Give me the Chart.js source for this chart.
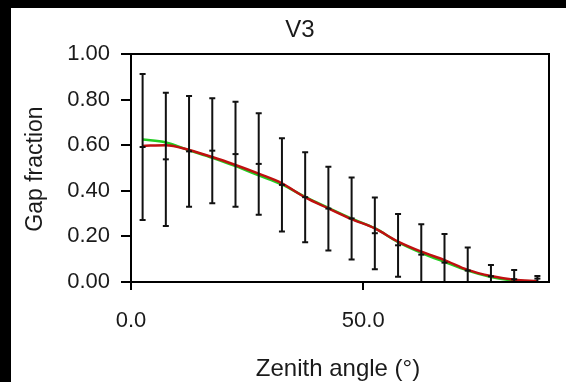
<!DOCTYPE html>
<html><head><meta charset="utf-8">
<script src="https://cdn.jsdelivr.net/npm/chart.js@4/dist/chart.umd.min.js"></script>
<style>
html,body{margin:0;padding:0;background:#000;width:566px;height:382px;overflow:hidden}
#wrap{position:absolute;left:11px;top:8px;width:555px;height:374px;background:#fff}
canvas{display:block}
</style></head><body>
<div id="wrap"><canvas id="c" width="555" height="374"></canvas></div>
<script>
const chartTitle = 'V3';
const xTitle = 'Zenith angle (°)';
const yTitle = 'Gap fraction';
const angles = [2.5, 7.5, 12.5, 17.5, 22.5, 27.5, 32.5, 37.5, 42.5, 47.5, 52.5, 57.5, 62.5, 67.5, 72.5, 77.5, 82.5, 87.5];
const meanGap = [0.592, 0.538, 0.573, 0.576, 0.561, 0.518, 0.426, 0.372, 0.322, 0.279, 0.214, 0.161, 0.120, 0.085, 0.050, 0.025, 0.012, 0.015];
const upperGap = [0.912, 0.830, 0.816, 0.806, 0.791, 0.740, 0.630, 0.569, 0.506, 0.458, 0.371, 0.298, 0.253, 0.211, 0.151, 0.075, 0.053, 0.026];
const lowerGap = [0.272, 0.246, 0.330, 0.345, 0.330, 0.295, 0.222, 0.174, 0.138, 0.099, 0.056, 0.023, 0, 0, 0, 0, 0, 0];
const modelGreen = [0.625, 0.612, 0.578, 0.545, 0.508, 0.468, 0.428, 0.373, 0.325, 0.278, 0.236, 0.175, 0.128, 0.088, 0.050, 0.022, 0.006, 0.001];
const modelRed = [0.597, 0.600, 0.579, 0.548, 0.513, 0.475, 0.433, 0.371, 0.323, 0.276, 0.235, 0.177, 0.133, 0.096, 0.053, 0.026, 0.010, 0.003];
const xTickValues = [0, 50];
const yTickValues = [0, 0.2, 0.4, 0.6, 0.8, 1.0];

const FONT = "'Liberation Sans', Arial, sans-serif";
const pts = arr => arr.map((v, i) => ({x: angles[i], y: v}));

const framePlugin = {
  id: 'frame',
  afterDatasetsDraw(chart) {
    const {ctx, chartArea: a, scales: {x, y}} = chart;
    ctx.save();
    ctx.strokeStyle = '#111';
    ctx.lineWidth = 2;
    for (let i = 0; i < angles.length; i++) {
      const px = x.getPixelForValue(angles[i]);
      const yt = y.getPixelForValue(upperGap[i]);
      const yb = y.getPixelForValue(lowerGap[i]);
      ctx.beginPath();
      ctx.moveTo(px, yt); ctx.lineTo(px, yb);
      ctx.moveTo(px - 3, yt); ctx.lineTo(px + 3, yt);
      ctx.moveTo(px - 3, yb); ctx.lineTo(px + 3, yb);
      ctx.stroke();
    }
    ctx.strokeStyle = '#000';
    ctx.lineWidth = 2;
    ctx.strokeRect(a.left, a.top, a.right - a.left, a.bottom - a.top);
    ctx.restore();
  },
  afterDraw(chart) {
    const {ctx} = chart;
    ctx.save();
    ctx.fillStyle = '#1a1a1a';
    ctx.textAlign = 'center';
    ctx.textBaseline = 'middle';
    ctx.font = '24px ' + FONT;
    ctx.fillText(chartTitle, 289, 22);
    ctx.fillText(xTitle, 327, 361);
    ctx.font = '23px ' + FONT;
    ctx.translate(25, 161);
    ctx.rotate(-Math.PI / 2);
    ctx.fillText(yTitle, 0, 0);
    ctx.restore();
  }
};

new Chart(document.getElementById('c'), {
  type: 'line',
  data: {
    datasets: [
      {label: 'green', data: pts(modelGreen), borderColor: '#22cc22', borderWidth: 2.5, pointRadius: 0, cubicInterpolationMode: 'monotone', order: 3},
      {label: 'red', data: pts(modelRed), borderColor: '#c01010', borderWidth: 2.5, pointRadius: 0, cubicInterpolationMode: 'monotone', order: 2},
      {label: 'mean', data: pts(meanGap), showLine: false, pointStyle: 'line', pointRadius: 3, borderColor: '#111', borderWidth: 2, order: 1}
    ]
  },
  options: {
    responsive: false,
    animation: false,
    events: [],
    layout: {padding: {left: 0, right: 17, top: 46, bottom: 0}},
    plugins: {legend: {display: false}, tooltip: {enabled: false}},
    scales: {
      x: {
        type: 'linear', min: 0, max: 90,
        afterBuildTicks: s => { s.ticks = xTickValues.map(v => ({value: v})); },
        afterFit: s => { s.height = 100; },
        ticks: {callback: v => Number(v).toFixed(1), font: {family: FONT, size: 22}, color: '#1a1a1a', padding: 18, maxRotation: 0},
        grid: {drawOnChartArea: false, drawTicks: true, tickLength: 8, color: '#000', lineWidth: 2},
        border: {color: '#000', width: 2}
      },
      y: {
        type: 'linear', min: 0, max: 1,
        afterBuildTicks: s => { s.ticks = yTickValues.map(v => ({value: v})); },
        afterFit: s => { s.width = 120; },
        ticks: {callback: v => Number(v).toFixed(2), font: {family: FONT, size: 22}, color: '#1a1a1a', padding: 11},
        grid: {drawOnChartArea: false, drawTicks: true, tickLength: 10, color: '#000', lineWidth: 2},
        border: {color: '#000', width: 2}
      }
    }
  },
  plugins: [framePlugin]
});
</script>
</body></html>
